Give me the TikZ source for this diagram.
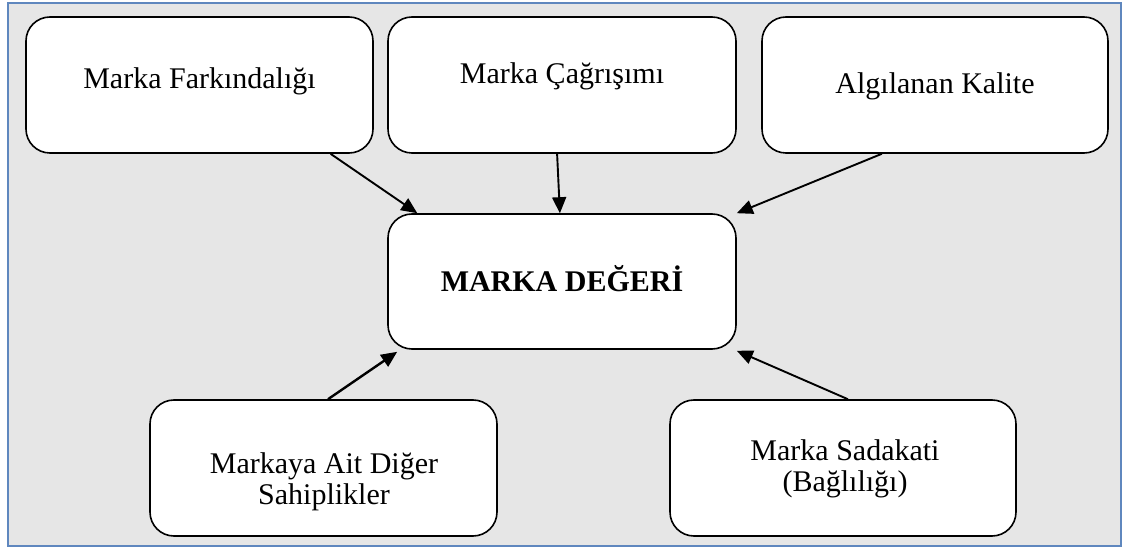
\documentclass[tikz,border=0pt]{standalone}
\usepackage{fontspec}
\setmainfont{Liberation Serif}
\usetikzlibrary{arrows.meta,calc}
\definecolor{panelgray}{RGB}{230,230,230}
\definecolor{frameblue}{RGB}{95,135,190}
\tikzset{
  card/.style={draw=black, fill=white, line width=1.6pt, rounded corners=24pt,
    minimum width=347pt, minimum height=136pt, inner sep=0pt},
  cardtext/.style={font=\fontsize{30}{31.5}\selectfont, align=center, inner sep=0pt},
  link/.style={line width=1.9pt, -{Triangle[length=16pt,width=14pt]}}
}
\begin{document}
\begin{tikzpicture}[x=1pt,y=-1pt]
  \useasboundingbox (0,0) rectangle (1128,548);
  % framed gray panel
  \draw[frameblue, line width=2.4pt, fill=panelgray] (8,3) rectangle (1121,546);

  % boxes
  \node[card] (b1) at (199.5,85) {};
  \node[card, minimum width=348pt] (b2) at (562,85) {};
  \node[card, minimum width=346pt] (b3) at (935,85) {};
  \node[card, minimum width=348pt, minimum height=135pt] (c) at (562,281.5) {};
  \node[card] (b4) at (323.5,468) {};
  \node[card, minimum width=346pt] (b5) at (843,468) {};

  % labels
  \node[cardtext, anchor=base] (t1) at (199.5,89) {Marka Farkındalığı};
  \node[cardtext, anchor=base] (t2) at (562,84) {Marka Çağrışımı};
  \node[cardtext, anchor=base] (t3) at (935,94) {Algılanan Kalite};
  \node[cardtext, anchor=base, font=\fontsize{30}{32}\selectfont\bfseries] (tc) at (562,292) {MARKA DEĞERİ};
  \node[cardtext] (t4) at (324,482) {Markaya Ait Diğer\\Sahiplikler};
  \node[cardtext] (t5) at (845,469) {Marka Sadakati\\(Bağlılığı)};

  % arrows into the central box
  \draw[link] ($(b1.south west)!0.876!(b1.south east)$) -- ($(c.north west)!0.086!(c.north east)$);
  \draw[link] ($(b2.south west)!0.486!(b2.south east)$) -- ($(c.north west)!0.494!(c.north east)$);
  \draw[link] ($(b3.south west)!0.347!(b3.south east)$) -- ($(c.north east)+(0,0)$);
  \draw[link, line width=2.4pt] ($(b4.north west)!0.513!(b4.north east)$) -- ($(c.south west)+(10,2)$);
  \draw[link] ($(b5.north west)!0.514!(b5.north east)$) -- ($(c.south east)+(0,1)$);
\end{tikzpicture}
\end{document}
